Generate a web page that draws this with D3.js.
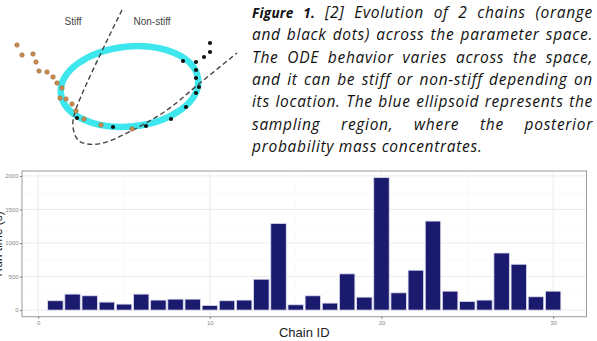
<!DOCTYPE html>
<html>
<head>
<meta charset="utf-8">
<script src="https://cdn.jsdelivr.net/npm/d3@7"></script>
<style>
  body { margin: 0; background: #fff; }
  svg { display: block; }
</style>
</head>
<body>
<div id="fig"></div>
<script>
// ---- bar chart data: run time per chain ----
const chainIds = d3.range(1, 31);
const runTimes = [139, 238, 213, 119, 89, 238, 149, 163, 163, 69,
                  139, 149, 460, 1292, 79, 213, 104, 540, 193, 1975,
                  257, 594, 1327, 282, 129, 149, 851, 683, 198, 282];
const xTicks = [0, 10, 20, 30];
const yTicks = [0, 500, 1000, 1500, 2000];
const xMinor = [5, 15, 25];
const yMinor = [250, 750, 1250, 1750];

// ---- diagram data: two chains in parameter space ----
const orangeX = [0.68, 0.88, 1.32, 1.44, 1.56, 1.88, 2.12, 2.28, 2.48, 2.40, 2.64, 2.88, 3.04, 3.36, 4.04, 5.28];
const orangeY = [4.80, 4.40, 4.44, 4.12, 3.76, 3.72, 3.52, 3.28, 3.08, 2.68, 2.64, 2.44, 2.16, 1.84, 1.60, 1.44];
const blackX = [3.08, 4.52, 5.84, 6.84, 7.44, 7.84, 7.96, 7.84, 7.84, 7.32, 7.84, 8.16, 8.40, 8.40];
const blackY = [1.88, 1.52, 1.56, 1.84, 2.32, 2.88, 3.12, 3.48, 3.80, 4.16, 4.12, 4.32, 4.52, 4.88];
const boundaryX = [4.88, 3.00, 2.92, 3.12, 3.48, 4.12, 5.32, 6.68, 8.00, 9.48];
const boundaryY = [6.20, 2.12, 1.52, 1.00, 0.84, 0.88, 1.40, 2.20, 3.28, 4.48];
const regionNames = ["Stiff", "Non-stiff"];
const regionX = [2.92, 6.08];
const regionY = [5.6, 5.6];

const captionLines = [
  "Figure 1. [2] Evolution of 2 chains (orange",
  "and black dots) across the parameter space.",
  "The ODE behavior varies across the space,",
  "and it can be stiff or non-stiff depending on",
  "its location. The blue ellipsoid represents the",
  "sampling region, where the posterior",
  "probability mass concentrates."
];

const W = 597, H = 341;
const svg = d3.select('#fig').append('svg')
    .attr('width', W).attr('height', H)
    .style('font-family', 'Liberation Sans, Arial, sans-serif');

// ================= diagram =================
const dx = d3.scaleLinear().domain([0, 10]).range([0, 250]);
const dy = d3.scaleLinear().domain([0, 6.6]).range([165, 0]);
const diag = svg.append('g');

// sampling region (ellipse)
diag.append('ellipse')
    .attr('cx', dx(5.18)).attr('cy', dy(3.14))
    .attr('rx', dx(2.76) - dx(0)).attr('ry', dy(0) - dy(1.6))
    .attr('transform', `rotate(-6, ${dx(5.18)}, ${dy(3.14)})`)
    .attr('fill', 'none')
    .attr('stroke', '#3ee6ee')
    .attr('stroke-width', 6.5);

// stiff / non-stiff boundary
const bLine = d3.line().curve(d3.curveCatmullRom.alpha(0.5))
    .x(i => dx(boundaryX[i])).y(i => dy(boundaryY[i]));
diag.append('path')
    .attr('d', bLine(d3.range(boundaryX.length)))
    .attr('fill', 'none')
    .attr('stroke', '#444')
    .attr('stroke-width', 1.4)
    .attr('stroke-dasharray', '5,3');

diag.selectAll('circle.orange')
    .data(d3.range(orangeX.length))
    .join('circle')
    .attr('class', 'orange')
    .attr('cx', i => dx(orangeX[i])).attr('cy', i => dy(orangeY[i]))
    .attr('r', 2.3)
    .attr('fill', '#c58a4e')
    .attr('stroke', '#9a6a3a').attr('stroke-width', 0.5);

diag.selectAll('circle.black')
    .data(d3.range(blackX.length))
    .join('circle')
    .attr('class', 'black')
    .attr('cx', i => dx(blackX[i])).attr('cy', i => dy(blackY[i]))
    .attr('r', 2.1)
    .attr('fill', '#111');

diag.selectAll('text.region')
    .data(regionNames)
    .join('text')
    .attr('class', 'region')
    .attr('x', (d, i) => dx(regionX[i]))
    .attr('y', (d, i) => dy(regionY[i]))
    .attr('text-anchor', 'middle')
    .attr('font-size', 10)
    .attr('fill', '#444')
    .text(d => d);

// ================= caption (justified) =================
const capLeft = 252, capRight = 593, capTop = 18, capStep = 22.3;
const cap = svg.append('g')
    .style('font-family', '"Open Sans", sans-serif')
    .style('font-style', 'italic')
    .attr('fill', '#111');

captionLines.forEach((line, li) => {
  const words = line.split(' ');
  const yy = capTop + li * capStep;
  const nodes = words.map((w, wi) => {
    const bold = li === 0 && wi < 2;
    return cap.append('text')
      .attr('y', yy)
      .attr('font-weight', bold ? 'bold' : 'normal')
      .attr('font-size', bold ? 13.5 : 15.5)
      .attr('letter-spacing', bold ? 0.3 : 0.7)
      .text(w);
  });
  const widths = nodes.map(n => n.node().getComputedTextLength());
  const total = d3.sum(widths);
  const last = li === captionLines.length - 1;
  const gap = last ? 4.5 : (capRight - capLeft - total) / (words.length - 1);
  let xx = capLeft;
  nodes.forEach((n, i) => { n.attr('x', xx); xx += widths[i] + gap; });
});

// ================= bar chart =================
const panel = { left: 22, right: 586.5, top: 171, bottom: 316.7 };
const x = d3.scaleLinear().domain([-0.945, 31.945]).range([panel.left, panel.right]);
const y = d3.scaleLinear().domain([-98.75, 2073.75]).range([panel.bottom, panel.top]);
const chart = svg.append('g');

chart.append('rect')
    .attr('x', panel.left).attr('y', panel.top)
    .attr('width', panel.right - panel.left).attr('height', panel.bottom - panel.top)
    .attr('fill', '#fff');

// grid
chart.selectAll('line.ymin').data(yMinor).join('line')
    .attr('x1', panel.left).attr('x2', panel.right)
    .attr('y1', d => y(d)).attr('y2', d => y(d))
    .attr('stroke', '#f6f6f6').attr('stroke-width', 0.6);
chart.selectAll('line.xmin').data(xMinor).join('line')
    .attr('y1', panel.top).attr('y2', panel.bottom)
    .attr('x1', d => x(d)).attr('x2', d => x(d))
    .attr('stroke', '#f6f6f6').attr('stroke-width', 0.6);
chart.selectAll('line.ymaj').data(yTicks).join('line')
    .attr('x1', panel.left).attr('x2', panel.right)
    .attr('y1', d => y(d)).attr('y2', d => y(d))
    .attr('stroke', '#ececec').attr('stroke-width', 1);
chart.selectAll('line.xmaj').data(xTicks).join('line')
    .attr('y1', panel.top).attr('y2', panel.bottom)
    .attr('x1', d => x(d)).attr('x2', d => x(d))
    .attr('stroke', '#ececec').attr('stroke-width', 1);

// bars
chart.selectAll('rect.bar')
    .data(chainIds)
    .join('rect')
    .attr('class', 'bar')
    .attr('x', d => x(d - 0.45))
    .attr('width', x(0.9) - x(0))
    .attr('y', (d, i) => y(runTimes[i]))
    .attr('height', (d, i) => y(0) - y(runTimes[i]))
    .attr('fill', '#1a1a6e')
    .attr('stroke', '#dcdcf0')
    .attr('stroke-width', 0.8);

chart.append('rect')
    .attr('x', panel.left).attr('y', panel.top)
    .attr('width', panel.right - panel.left).attr('height', panel.bottom - panel.top)
    .attr('fill', 'none')
    .attr('stroke', '#9a9a9a').attr('stroke-width', 1);

// axes
const yAxis = d3.axisLeft(y).tickValues(yTicks).tickFormat(d3.format('d')).tickSize(2).tickPadding(1.5);
const xAxis = d3.axisBottom(x).tickValues(xTicks).tickFormat(d3.format('d')).tickSize(2).tickPadding(2);
chart.append('g')
    .attr('transform', `translate(${panel.left},0)`)
    .call(yAxis)
    .call(g => g.select('.domain').remove())
    .call(g => g.selectAll('line').attr('stroke', '#777'))
    .call(g => g.selectAll('text').attr('fill', '#888').attr('font-size', 6)
        .attr('font-family', 'Liberation Sans, Arial, sans-serif'));
chart.append('g')
    .attr('transform', `translate(0,${panel.bottom})`)
    .call(xAxis)
    .call(g => g.select('.domain').remove())
    .call(g => g.selectAll('line').attr('stroke', '#777'))
    .call(g => g.selectAll('text').attr('fill', '#888').attr('font-size', 6)
        .attr('font-family', 'Liberation Sans, Arial, sans-serif'));

chart.append('text')
    .attr('x', (panel.left + panel.right) / 2)
    .attr('y', 337)
    .attr('text-anchor', 'middle')
    .attr('font-size', 13)
    .attr('fill', '#222')
    .text('Chain ID');

chart.append('text')
    .attr('transform', `translate(1.5,${(panel.top + panel.bottom) / 2}) rotate(-90)`)
    .attr('text-anchor', 'middle')
    .attr('font-size', 12)
    .attr('fill', '#222')
    .text('Run time (s)');
</script>
</body>
</html>
